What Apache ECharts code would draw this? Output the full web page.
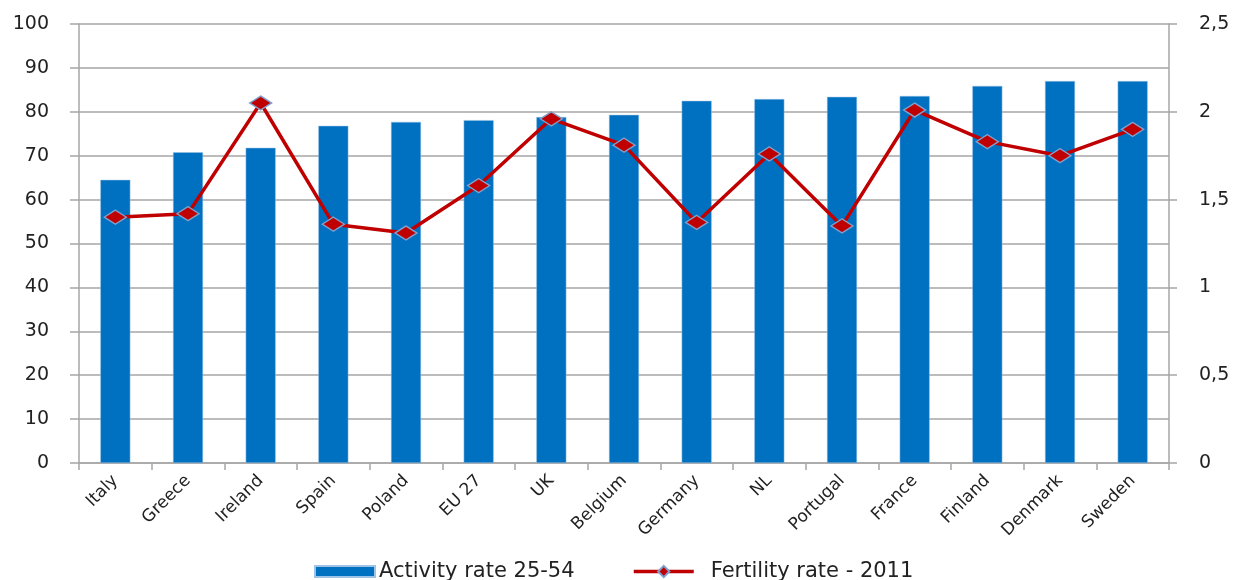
<!DOCTYPE html>
<html><head><meta charset="utf-8">
<script src="https://cdn.jsdelivr.net/npm/echarts@6/dist/echarts.min.js"></script>
<style>html,body{margin:0;padding:0;background:#fff}#c{width:1233px;height:580px}</style>
</head><body><div id="c"></div>
<script>
const categories = ['Italy','Greece','Ireland','Spain','Poland','EU 27','UK','Belgium','Germany','NL','Portugal','France','Finland','Denmark','Sweden'];
const activityRate = [64.5,70.8,71.8,76.8,77.7,78.1,78.8,79.3,82.5,82.9,83.4,83.6,85.9,87.0,87.0];
const fertilityRate = [1.40,1.42,2.05,1.36,1.31,1.58,1.96,1.81,1.37,1.76,1.35,2.01,1.83,1.75,1.90];
const barName = 'Activity rate 25-54';
const lineName = 'Fertility rate - 2011';

const chart = echarts.init(document.getElementById('c'), null, {renderer:'canvas'});
const axisCol = '#A6A6A6';
const legendText = {fontFamily:'DejaVu Sans',fontSize:21,color:'#222'};
chart.setOption({
  animation:false,
  backgroundColor:'#fff',
  grid:{left:79,right:64,top:24,bottom:117,containLabel:false},
  legend:[{
    bottom:-7,left:309,itemWidth:60,itemHeight:11,
    textStyle:Object.assign({padding:[0,0,0,-1]},legendText),
    data:[{name:barName,icon:'rect'}]
  },{
    bottom:-7,left:627,itemWidth:60,itemHeight:14,
    textStyle:Object.assign({padding:[0,0,0,12]},legendText),
    data:[{name:lineName,lineStyle:{width:3.5,color:'#C00000'}}]
  }],
  xAxis:{
    type:'category',data:categories,
    axisLine:{lineStyle:{color:axisCol,width:1.5}},
    axisTick:{show:true,length:7,lineStyle:{color:axisCol,width:1.5}},
    axisLabel:{rotate:45,fontFamily:'DejaVu Sans',fontSize:17,color:'#222',margin:15}
  },
  yAxis:[{
    type:'value',min:0,max:100,interval:10,
    axisLine:{show:true,lineStyle:{color:axisCol,width:1.5}},
    axisTick:{show:true,length:9,lineStyle:{color:axisCol,width:1.5}},
    splitLine:{lineStyle:{color:axisCol,width:1.5}},
    axisLabel:{fontFamily:'DejaVu Sans',fontSize:19,color:'#222',margin:30}
  },{
    type:'value',min:0,max:2.5,interval:0.5,position:'right',
    axisLine:{show:true,lineStyle:{color:axisCol,width:1.5}},
    axisTick:{show:true,length:8,lineStyle:{color:axisCol,width:1.5}},
    splitLine:{show:false},
    axisLabel:{fontFamily:'DejaVu Sans',fontSize:19,color:'#222',margin:30,
      formatter:v=>String(v).replace('.',',')}
  }],
  series:[{
    name:barName,type:'bar',data:activityRate,barWidth:30,
    itemStyle:{color:'#0070C0',borderColor:'#9DC3E6',borderWidth:0.5}
  },{
    name:lineName,type:'line',yAxisIndex:1,data:fertilityRate,
    symbol:'diamond',symbolSize:[22,14],
    lineStyle:{color:'#C00000',width:3.5},
    itemStyle:{color:'#C00000',borderColor:'#7F9FCC',borderWidth:1.5}
  }]
});
</script></body></html>
